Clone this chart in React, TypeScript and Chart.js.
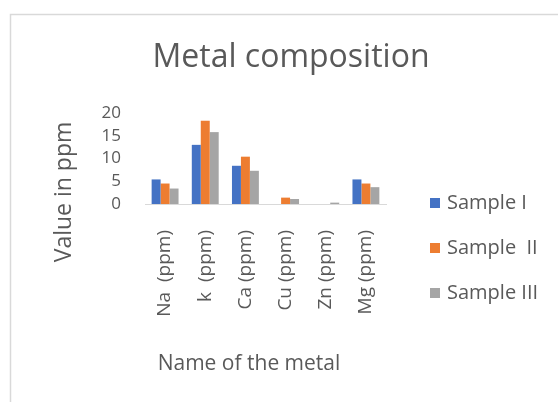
import React, { useEffect, useRef } from "react";
import { Chart, registerables } from "chart.js";

Chart.register(...registerables);

const metals = ["Na  (ppm)", "k  (ppm)", "Ca (ppm)", "Cu (ppm)", "Zn (ppm)", "Mg (ppm)"];
const sampleI = [5.4, 13.0, 8.4, 0, 0, 5.4];
const sampleII = [4.5, 18.3, 10.4, 1.4, 0, 4.5];
const sampleIII = [3.4, 15.8, 7.3, 1.1, 0.3, 3.7];
const seriesNames = ["Sample I", "Sample  II", "Sample III"];
const seriesColors = ["#4472C4", "#ED7D31", "#A5A5A5"];
const valueTicks = [0, 5, 10, 15, 20];

const chartTitle = "Metal composition";
const yTitle = "Value in ppm";
const xTitle = "Name of the metal";

const FONT = "'Open Sans', Lato, sans-serif";
const TEXT = "#595959";

const decor = {
  id: "decor",
  beforeDraw(chart: Chart) {
    const { ctx, width, height } = chart;
    ctx.save();
    ctx.fillStyle = "#ffffff";
    ctx.fillRect(0, 0, width, height);
    ctx.strokeStyle = "#d9d9d9";
    ctx.lineWidth = 1.5;
    ctx.beginPath();
    ctx.moveTo(width + 2, 14.5);
    ctx.lineTo(10.5, 14.5);
    ctx.lineTo(10.5, height + 2);
    ctx.stroke();
    ctx.restore();
  },
  afterDraw(chart: Chart) {
    const { ctx } = chart;
    ctx.save();
    ctx.fillStyle = TEXT;
    ctx.textBaseline = "middle";

    // chart title
    ctx.textAlign = "center";
    ctx.font = `32px ${FONT}`;
    ctx.fillText(chartTitle, 291, 58);

    // x axis title
    ctx.font = `21px ${FONT}`;
    ctx.fillText(xTitle, 249, 364);

    // y axis title
    ctx.save();
    ctx.translate(64, 192);
    ctx.rotate(-Math.PI / 2);
    ctx.font = `23px ${FONT}`;
    ctx.fillText(yTitle, 0, 0);
    ctx.restore();

    // legend
    ctx.textAlign = "left";
    ctx.font = `20px ${FONT}`;
    const rows = [203, 248, 293];
    chart.data.datasets.forEach((ds, i) => {
      const y = rows[i];
      ctx.fillStyle = ds.backgroundColor as string;
      ctx.fillRect(430, y - 5, 10, 10);
      ctx.fillStyle = TEXT;
      ctx.fillText(ds.label as string, 447, y);
    });
    ctx.restore();
  },
};

export default function App() {
  const ref = useRef<HTMLCanvasElement | null>(null);

  useEffect(() => {
    if (!ref.current) return;
    const chart = new Chart(ref.current, {
      type: "bar",
      data: {
        labels: metals,
        datasets: [sampleI, sampleII, sampleIII].map((values, i) => ({
          label: seriesNames[i],
          data: values,
          backgroundColor: seriesColors[i],
          borderWidth: 0,
          categoryPercentage: 0.67,
          barPercentage: 1,
        })),
      },
      options: {
        animation: false,
        responsive: false,
        maintainAspectRatio: false,
        layout: { padding: { top: 113, right: 172, left: 0, bottom: 0 } },
        plugins: {
          legend: { display: false },
          title: { display: false },
          tooltip: { enabled: false },
        },
        scales: {
          x: {
            afterFit: (scale: any) => {
              scale.height = 198;
            },
            grid: { display: false, drawTicks: false },
            border: { display: true, color: "#d9d9d9", width: 1 },
            ticks: {
              color: TEXT,
              font: { family: FONT, size: 19 },
              minRotation: 90,
              maxRotation: 90,
              autoSkip: false,
              padding: 26,
            },
          },
          y: {
            min: valueTicks[0],
            max: valueTicks[valueTicks.length - 1],
            afterFit: (scale: any) => {
              scale.width = 145;
            },
            afterBuildTicks: (scale: any) => {
              scale.ticks = valueTicks.map((v) => ({ value: v }));
            },
            grid: { display: false, drawTicks: false },
            border: { display: false },
            ticks: {
              color: TEXT,
              font: { family: FONT, size: 17, lineHeight: 1 },
              padding: 24,
              autoSkip: false,
            },
          },
        },
      },
      plugins: [decor],
    });
    return () => chart.destroy();
  }, []);

  return (
    <div style={{ position: "fixed", left: 0, top: 0, width: 558, height: 402, background: "#fff" }}>
      <canvas ref={ref} width={558} height={402} style={{ display: "block" }} />
    </div>
  );
}
